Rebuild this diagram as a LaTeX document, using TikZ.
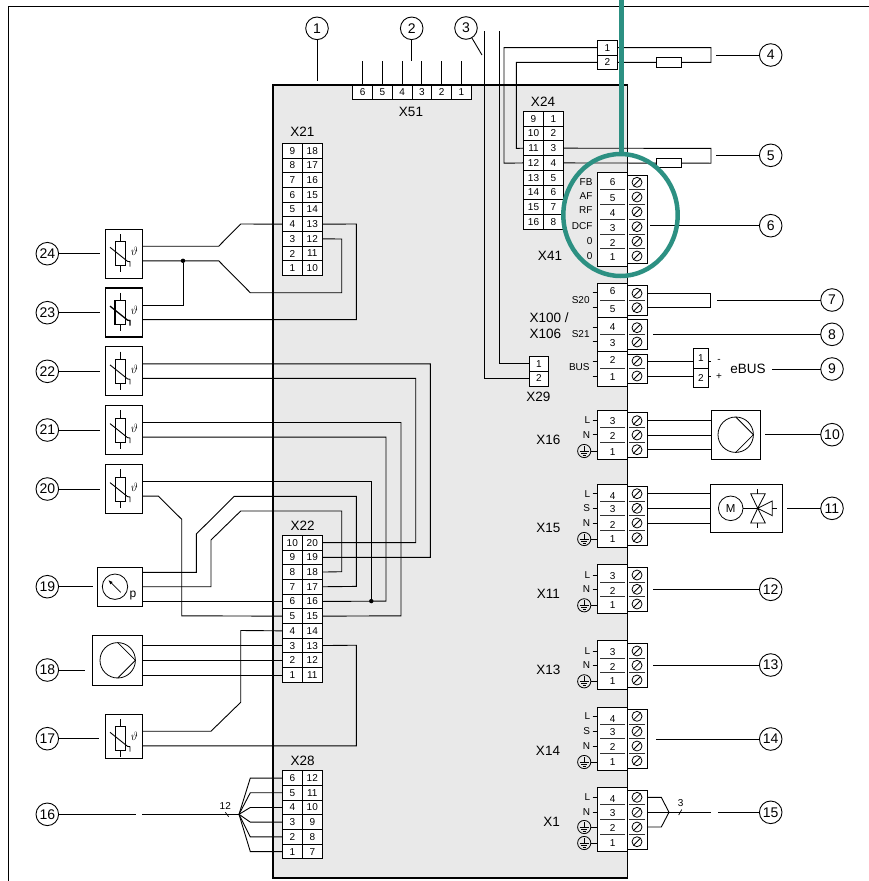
\documentclass[tikz,border=0pt]{standalone}
\usepackage{fontspec}
\setmainfont{Liberation Sans}
\usetikzlibrary{calc,arrows.meta}
\definecolor{boardgray}{HTML}{E9E9E9}
\definecolor{ringteal}{HTML}{2C9082}
\tikzset{
  wire/.style={line width=0.9pt,line join=miter},
  divl/.style={line width=1pt,draw=black!80},
  bx/.style={draw,line width=0.9pt,fill=white,inner sep=0pt,outer sep=0pt,font=\fontsize{10}{10}\selectfont},
  digit/.style={inner sep=0pt,font=\fontsize{10}{10}\selectfont},
  lab/.style={inner sep=0pt,font=\fontsize{10}{10}\selectfont},
  xcap/.style={inner sep=0pt,font=\fontsize{13.5}{13.5}\selectfont},
  screw/.style={circle,draw,line width=0.8pt,minimum size=10pt,inner sep=0pt,outer sep=0pt},
  callnode/.style={circle,draw,line width=0.9pt,fill=white,minimum size=22.6pt,inner sep=0pt,outer sep=0pt,font=\fontsize{14}{14}\selectfont},
  jdot/.style={circle,fill=black,inner sep=0pt,minimum size=4.4pt},
}
\newcommand\mkbox[6][]{%
  \pgfmathsetmacro\bxw{#5-#3}\pgfmathsetmacro\bxh{#6-#4}%
  \pgfmathsetmacro\bxx{(#3+#5)/2}\pgfmathsetmacro\bxy{(#4+#6)/2}%
  \node[bx,minimum width=\bxw pt,minimum height=\bxh pt,#1] (#2) at (\bxx,\bxy) {};}
\newcommand\mkcell[6]{%
  \pgfmathsetmacro\bxw{#4-#2}\pgfmathsetmacro\bxh{#5-#3}%
  \pgfmathsetmacro\bxx{(#2+#4)/2}\pgfmathsetmacro\bxy{(#3+#5)/2}%
  \node[bx,minimum width=\bxw pt,minimum height=\bxh pt] (#1) at (\bxx,\bxy) {#6};}
\newcommand\mkstrip[7]{%
  \foreach \la/\ra [count=\nn from 0] in {#7} {%
    \pgfmathsetmacro\yya{#5+\nn*#6}\pgfmathsetmacro\yyb{#5+(\nn+1)*#6}%
    \mkcell{#1-L\la}{#2}{\yya}{#3}{\yyb}{\la}%
    \mkcell{#1-R\ra}{#3}{\yya}{#4}{\yyb}{\ra}%
  }}
\newcommand\mkpin[4]{%
  \node[digit] (#1-d#2) at (612.7,#3) {#2};
  \node[screw] (#1-s#2) at (637,#4) {};
  \draw[line width=0.8pt] (#1-s#2.45) -- (#1-s#2.225);
  \coordinate (#1-w#2) at (647,#4);}
\newcommand\mkdiv[1]{\draw[divl] (600,#1) -- (625,#1) (629,#1) -- (645,#1);}
\newcommand\mklab[2]{%
  \node[lab,anchor=east] at (590.3,#2) {#1};
  \draw[line width=0.8pt] (592.7,#2) -- (597.7,#2);}
\newcommand\mkearth[1]{%
  \draw[line width=0.8pt] (584.2,#1) circle (6.6pt);
  \draw[line width=0.8pt] (584.2,#1-5) -- (584.2,#1+0.5)
    (579.6,#1+0.5) -- (588.8,#1+0.5) (581,#1+2.5) -- (587.4,#1+2.5) (582.6,#1+4.5) -- (585.8,#1+4.5);
  \draw[line width=0.8pt] (590.8,#1) -- (597.7,#1);}
\newcommand\mkcall[6]{%
  \node[callnode] (#1) at (#2,#3) {#4};
  \coordinate (#1-end) at (#5,#6);
  \draw[wire] (#1) -- (#1-end);}
\newcommand\mksensor[5][0.9pt]{% name, symbol centre y, box top, box bottom
  \mkbox[line width=#1]{#2}{105.3}{#4}{142.3}{#5}
  \draw[line width=#1] (115,#3-12) rectangle (125.3,#3+12);
  \draw[line width=#1] (120.2,#3-19.7) -- (120.2,#3-12) (120.2,#3+12) -- (120.2,#3+18.6);
  \draw[line width=#1] (110,#3-6.4) -- (127.5,#3+7.6) -- (130,#3+8) -- (130,#3+13);
  \node[inner sep=0pt,font=\fontsize{12}{12}\selectfont] at (134.3,#3-2) {$\vartheta$};
  \coordinate (#2-a) at (142.3,#3-7.5);
  \coordinate (#2-b) at (142.3,#3+7.1);}
\begin{document}
\begin{tikzpicture}[x=1pt,y=-1pt,line cap=butt]
\useasboundingbox (0,0) rectangle (869,881);
\fill[white] (0,0) rectangle (869,881);
% page frame
\draw[line width=0.9pt] (869,6) -- (8.3,6) -- (8.3,881);
% board
\mkbox[fill=boardgray,line width=1.3pt]{board}{273}{85}{627.3}{878}

% ---------- X51
\foreach \dg [count=\nn from 0] in {6,5,4,3,2,1} {
  \pgfmathsetmacro\xa{352.7+\nn*19.77}\pgfmathsetmacro\xb{\xa+19.77}
  \mkcell{X51-\dg}{\xa}{85}{\xb}{99.7}{\dg}
  \coordinate (X51-t\dg) at ($(X51-\dg.north)+(0,-24.5)$);
  \draw[wire] (X51-\dg.north) -- (X51-t\dg);
}
\node[xcap] (lX51) at (411,112) {X51};
\node[xcap] (lX21) at (302.3,131.3) {X21};
\node[xcap] (lX24) at (543,102) {X24};
\node[xcap] (lX22) at (302.7,526) {X22};
\node[xcap] (lX28) at (302.7,761.3) {X28};
\node[xcap] (lX29) at (538.3,397) {X29};
\node[xcap] (lX41) at (550,256.3) {X41};
\node[xcap,anchor=west] (lX100) at (529.3,317.3) {X100 /};
\node[xcap,anchor=west] (lX106) at (529.3,334) {X106};
\node[xcap] (lX16) at (548.3,440) {X16};
\node[xcap] (lX15) at (548.3,528.3) {X15};
\node[xcap] (lX11) at (548.3,594.3) {X11};
\node[xcap] (lX13) at (548.3,670.3) {X13};
\node[xcap] (lX14) at (548,751.3) {X14};
\node[xcap] (lX1) at (551.7,822.3) {X1};

% ---------- strips
\mkstrip{X21}{282.3}{302.3}{322.3}{143.3}{14.7}{9/18,8/17,7/16,6/15,5/14,4/13,3/12,2/11,1/10}
\mkstrip{X24}{523.7}{543.3}{563.3}{111.3}{14.75}{9/1,10/2,11/3,12/4,13/5,14/6,15/7,16/8}
\mkstrip{X22}{282.3}{302.3}{322.3}{535.3}{14.7}{10/20,9/19,8/18,7/17,6/16,5/15,4/14,3/13,2/12,1/11}
\mkstrip{X28}{282.3}{302.3}{322.3}{770.7}{14.7}{6/12,5/11,4/10,3/9,2/8,1/7}
\mkcell{P1}{597.3}{40.3}{617.7}{55}{1}
\mkcell{P2}{597.3}{55}{617.7}{69.7}{2}
\mkcell{X29-1}{529}{356.3}{548.7}{371}{1}
\mkcell{X29-2}{529}{371}{548.7}{386}{2}
\mkcell{EB-1}{693.3}{348}{708.3}{368}{1}
\mkcell{EB-2}{693.3}{368}{708.3}{387.3}{2}

% ---------- wires to X24 / X29
\draw[wire] (P1.west) -- (504,47.65) -- (504,163.2) -- (X24-L12.west);
\draw[wire] (P2.west) -- (516.3,62.35) -- (516.3,148.4) -- (X24-L11.west);
\coordinate (t29a) at (499.3,31);
\coordinate (t29b) at (484.5,31);
\draw[wire] (t29a) -- (499.3,363.65) -- (X29-1.west);
\draw[wire] (t29b) -- (484.5,378.5) -- (X29-2.west);
\draw[wire] (P1.east) -- (711,47.65) -- (711,62.35) -- (P2.east);
\draw[wire] (X24-R3.east) -- (711,148.4) -- (711,163.2) -- (X24-R4.east);
\mkbox{R4}{656.7}{57.3}{681.7}{67.3}
\mkbox{R5}{656.7}{158}{681.7}{167.8}

% ---------- X41
\mkbox{X41}{597.3}{172.7}{627.3}{266}
\mkbox{X41-b}{627.3}{175.3}{647}{263.3}
\mkpin{X41}{6}{182.3}{182.3}
\mkpin{X41}{5}{198}{197}
\mkpin{X41}{4}{213}{211.7}
\mkpin{X41}{3}{228}{226.7}
\mkpin{X41}{2}{242.7}{241.3}
\mkpin{X41}{1}{257}{256}
\foreach \yy in {189.7,204.3,219.3,234.3,248.7} {\mkdiv{\yy}}
\node[lab,anchor=east] at (592.7,182.3) {FB};
\node[lab,anchor=east] at (592.7,196.3) {AF};
\node[lab,anchor=east] at (592.7,210.3) {RF};
\node[lab,anchor=east] at (592.7,226.3) {DCF};
\node[lab,anchor=east] at (592.7,241.3) {0};
\node[lab,anchor=east] at (592.7,256.3) {0};

% ---------- X100 / X106
\mkbox{X100}{597.7}{283.3}{627.3}{386}
\draw[line width=0.9pt] (597.7,317.3) -- (627.3,317.3) (597.7,351.7) -- (627.3,351.7);
\mkbox{X100-b1}{627.3}{285.3}{647}{315}
\mkbox{X100-b2}{627.3}{319.7}{647}{349.3}
\mkbox{X100-b3}{627.3}{354.3}{647}{383.7}
\mkpin{X100}{6}{291.3}{293.3}
\mkpin{X100}{5}{309.3}{307.7}
\mkpin{X100}{4}{326.7}{327.7}
\mkpin{X100}{3}{343.3}{342}
\mkpin{X100}{2}{360.3}{361}
\mkpin{X100}{1}{377.3}{376}
\foreach \yy in {300,334.3,368.7} {\mkdiv{\yy}}
\foreach \yy in {292.7,307.3,327.3,341.7,361,376} {\draw[line width=0.8pt] (592.7,\yy) -- (597.7,\yy);}
\node[lab,anchor=east] at (589.8,300.3) {S20};
\node[lab,anchor=east] at (589.8,334.3) {S21};
\node[lab,anchor=east] at (589.8,367.3) {BUS};
\draw[wire] (X100-w6) -- (710.7,293.3) -- (710.7,307.7) -- (X100-w5);
\draw[wire] (X100-w2) -- (EB-1.west |- X100-w2);
\draw[wire] (X100-w1) -- (EB-2.west |- X100-w1);
\draw[line width=0.8pt] (708.3,361) -- (711,361) (708.3,376) -- (711,376);
\node[lab] (minus) at (719,361) {-};
\node[lab] (plus) at (719,377) {+};
\node[xcap] (ebus) at (748,369) {eBUS};

% ---------- X16
\mkbox{X16}{597.7}{410.3}{627.3}{459.3}
\mkbox{X16-b}{627.3}{412.7}{647}{457}
\mkpin{X16}{3}{421.3}{420.7}
\mkpin{X16}{2}{436}{435}
\mkpin{X16}{1}{451.7}{449.7}
\foreach \yy in {427.7,442.3} {\mkdiv{\yy}}
\mklab{L}{420.3}\mklab{N}{434.7}\mkearth{451}
\mkbox{pumpR}{711}{410.3}{760.3}{459.3}
\node[circle,draw,line width=0.8pt,minimum size=35.4pt,inner sep=0pt,outer sep=0pt] (pumpRc) at (735.7,434.7) {};
\draw[line width=0.8pt] (pumpRc.north) -- (pumpRc.east) -- (pumpRc.south);
\foreach \pp in {3,2,1} {\draw[wire] (X16-w\pp) -- (pumpR.west |- X16-w\pp);}

% ---------- X15
\mkbox{X15}{597.7}{484}{627.3}{547.7}
\mkbox{X15-b}{627.3}{486.3}{647}{545.3}
\mkpin{X15}{4}{495.7}{493.7}
\mkpin{X15}{3}{509.3}{508.3}
\mkpin{X15}{2}{525}{523}
\mkpin{X15}{1}{539}{537.7}
\foreach \yy in {501,515.7,530.3} {\mkdiv{\yy}}
\mklab{L}{493.7}\mklab{S}{508.3}\mklab{N}{523}\mkearth{539}
\mkbox{valve}{710.7}{484}{782.3}{532.7}
\node[circle,draw,line width=0.8pt,minimum size=24.6pt,inner sep=0pt,outer sep=0pt,font=\fontsize{11.5}{11.5}\selectfont] (motor) at (730.7,508.3) {M};
\coordinate (vc) at (757.7,508.3);
\draw[line width=0.8pt] (motor.east) -- (vc);
\draw[line width=0.8pt,line join=miter] (vc) -- (750.7,493.7) -- (765.3,493.7) -- cycle
  (vc) -- (750.7,523) -- (765.3,523) -- cycle
  (vc) -- (772.3,501) -- (772.3,515.7) -- cycle;
\draw[line width=0.8pt] (757.7,493.7) -- (757.7,488.7) (757.7,523) -- (757.7,528.3) (772.3,508.3) -- (777.3,508.3);
\foreach \pp in {4,3,2} {\draw[wire] (X15-w\pp) -- (valve.west |- X15-w\pp);}

% ---------- X11
\mkbox{X11}{597.7}{564.7}{627.3}{613.7}
\mkbox{X11-b}{627.3}{567.3}{647}{611.3}
\mkpin{X11}{3}{576}{575}
\mkpin{X11}{2}{590.7}{589.3}
\mkpin{X11}{1}{605.3}{604}
\foreach \yy in {582,596.7} {\mkdiv{\yy}}
\mklab{L}{575}\mklab{N}{589.3}\mkearth{605.3}

% ---------- X13
\mkbox{X13}{597.7}{640.7}{627.3}{689.7}
\mkbox{X13-b}{627.3}{643.3}{647}{687.3}
\mkpin{X13}{3}{652}{651}
\mkpin{X13}{2}{666.7}{665.3}
\mkpin{X13}{1}{681.3}{680}
\foreach \yy in {658,672.7} {\mkdiv{\yy}}
\mklab{L}{651}\mklab{N}{665.3}\mkearth{681.3}

% ---------- X14
\mkbox{X14}{597.7}{707}{627.3}{770.3}
\mkbox{X14-b}{627.3}{709.3}{647}{768.3}
\mkpin{X14}{4}{718.7}{716.3}
\mkpin{X14}{3}{732.3}{731.3}
\mkpin{X14}{2}{747}{746}
\mkpin{X14}{1}{762}{760.7}
\foreach \yy in {724,738.7,753.3} {\mkdiv{\yy}}
\mklab{L}{716.3}\mklab{S}{731.3}\mklab{N}{746}\mkearth{762}

% ---------- X1
\mkbox{X1}{597.7}{787.7}{627.3}{851.3}
\mkbox{X1-b}{627.3}{790.3}{647}{849.3}
\mkpin{X1}{4}{799.3}{797.3}
\mkpin{X1}{3}{813.3}{812.3}
\mkpin{X1}{2}{828}{827}
\mkpin{X1}{1}{843}{841.7}
\foreach \yy in {804.7,819.7,834.3} {\mkdiv{\yy}}
\mklab{L}{797.3}\mklab{N}{812.3}\mkearth{827}\mkearth{843}
\coordinate (x1apex) at (669,812.3);
\coordinate (x1gap) at (711,812.3);
\draw[wire] (X1-w4) -- (661.3,797.3) -- (x1apex) -- (661.3,827) -- (X1-w2);
\draw[wire] (X1-w3) -- (x1gap);
\node[lab] (n3) at (680.7,803.3) {3};
\draw[line width=0.7pt] (678.7,815) -- (681.7,809.6);

% ---------- right callouts
\mkcall{c4}{770.7}{55}{4}{715.7}{55}
\mkcall{c5}{770.7}{155.3}{5}{715.7}{155.3}
\mkcall{c6}{770.7}{225.7}{6}{650.3}{225.7}
\mkcall{c7}{832}{300}{7}{716.7}{300}
\mkcall{c8}{832}{334.3}{8}{653.3}{334.3}
\mkcall{c9}{832}{369}{9}{772}{369}
\mkcall{c10}{832}{434.7}{10}{765}{434.7}
\mkcall{c11}{832}{508.3}{11}{787.3}{508.3}
\mkcall{c12}{770.7}{589.3}{12}{653.3}{589.3}
\mkcall{c13}{770.7}{665}{13}{653.3}{665}
\mkcall{c14}{770.7}{739}{14}{656.3}{739}
\mkcall{c15}{770.7}{812.3}{15}{718.3}{812.3}

% ---------- top callouts
\mkcall{c1}{317}{28.3}{1}{317}{80.5}
\mkcall{c2}{411.7}{28.3}{2}{411.7}{60.5}
\node[callnode] (c3) at (466,28) {3};
\coordinate (c3-end) at (482,55);
\draw[wire] (c3) -- (c3-end);

% ---------- left callouts
\mkcall{c24}{47.3}{253.7}{24}{100.3}{253.7}
\mkcall{c23}{47.3}{312.7}{23}{100.3}{312.7}
\mkcall{c22}{47.3}{371.3}{22}{100.3}{371.3}
\mkcall{c21}{47.3}{430}{21}{100.3}{430}
\mkcall{c20}{47.3}{489}{20}{100}{489}
\mkcall{c19}{47.3}{586.7}{19}{93.3}{586.7}
\mkcall{c18}{47.3}{670}{18}{84.7}{670}
\mkcall{c17}{47.3}{738.7}{17}{99}{738.7}
\mkcall{c16}{47.3}{814.3}{16}{136}{814.3}

% ---------- sensors
\mksensor{S24}{253.7}{229}{278.3}
\mksensor[1.3pt]{S23}{312.5}{288}{337}
\mksensor{S22}{371.3}{346.3}{395.7}
\mksensor{S21}{430}{405.7}{454.7}
\mksensor{S20}{489}{464.3}{513.3}
\mksensor{S17}{738.7}{714.3}{758.3}

% ---------- pressure sensor
\mkbox{press}{97.7}{567}{142.3}{606.3}
\node[circle,draw,line width=0.8pt,minimum size=25.4pt,inner sep=0pt,outer sep=0pt] (gauge) at (115,586.7) {};
\draw[line width=0.8pt,-{Latex[length=4.5pt,width=3.5pt]}] (120.7,592.3) -- (108.3,580);
\node[inner sep=0pt,font=\fontsize{12}{12}\selectfont] (pp) at (133,595.3) {p};

% ---------- pump 18
\mkbox{pumpL}{92.7}{635.7}{142.3}{685}
\node[circle,draw,line width=0.8pt,minimum size=35.4pt,inner sep=0pt,outer sep=0pt] (pumpLc) at (117.7,660.3) {};
\draw[line width=0.8pt] (pumpLc.north) -- (pumpLc.east) -- (pumpLc.south);

% ---------- wires left
\draw[wire] (S24-a) -- (218.7,246.2) -- (240.7,224) -- (X21-L4.west);
\draw[wire] (S24-b) -- (218.7,260.8) -- (250.3,292.7) -- (341.7,292.7) -- (341.7,239) -- (X21-R12.east);
\node[jdot] (d23) at (183,260.8) {};
\draw[wire] (S23-a) -- (183,305) -- (d23);
\draw[wire] (S23-b) -- (356.3,319.6) -- (356.3,224) -- (X21-R13.east);
\draw[wire] (S22-a) -- (430.3,363.8) -- (430.3,557.3) -- (X22-R19.east);
\draw[wire] (S22-b) -- (415.7,378.4) -- (415.7,542.65) -- (X22-R20.east);
\draw[wire] (S21-a) -- (401,422.5) -- (401,615.8) -- (X22-R15.east);
\draw[wire] (S21-b) -- (386,437.1) -- (386,601.1) -- (X22-R16.east);
\node[jdot] (d16) at (371.3,601.1) {};
\draw[wire] (S20-a) -- (371.3,481.5) -- (d16);
\draw[wire] (S20-b) -- (158.3,496.1) -- (181.7,519.3) -- (181.7,615.8) -- (X22-L5.west);
\draw[wire] (142.3,572.3) -- (196.3,572.3) -- (196.3,534) -- (234.3,496.3) -- (356.3,496.3) -- (356.3,586.4) -- (X22-R17.east);
\draw[wire] (142.3,586.7) -- (211,586.7) -- (211,540) -- (240.7,511) -- (341.7,511) -- (341.7,571.7) -- (X22-R18.east);
\draw[wire] (press.east |- X22-L6) -- (X22-L6.west);
\draw[wire] (pumpL.east |- X22-L3) -- (X22-L3.west);
\draw[wire] (pumpL.east |- X22-L2) -- (X22-L2.west);
\draw[wire] (pumpL.east |- X22-L1) -- (X22-L1.west);
\draw[wire] (S17-a) -- (211,731.2) -- (240.7,702.3) -- (240.7,630.5) -- (X22-L4.west);
\draw[wire] (S17-b) -- (356.3,745.8) -- (356.3,645.2) -- (X22-R13.east);

% ---------- X28 fan
\coordinate (fan) at (239,814.3);
\coordinate (fanin) at (142.3,814.3);
\draw[wire] (fanin) -- (fan);
\foreach \pp in {6,5,4,3,2,1} {\draw[wire] (fan) -- (250.3,0 |- X28-L\pp) -- (X28-L\pp.west);}
\node[lab] (n12) at (225.3,806) {12};
\draw[line width=0.7pt] (225.3,812.3) -- (228.7,816.7);

% ---------- teal ring
\draw[ringteal,line width=4.5pt] (621.7,0) -- (621.7,154);
\draw[ringteal,line width=4.5pt] (620.5,215) ellipse (57.2pt and 61pt);
\end{tikzpicture}
\end{document}
